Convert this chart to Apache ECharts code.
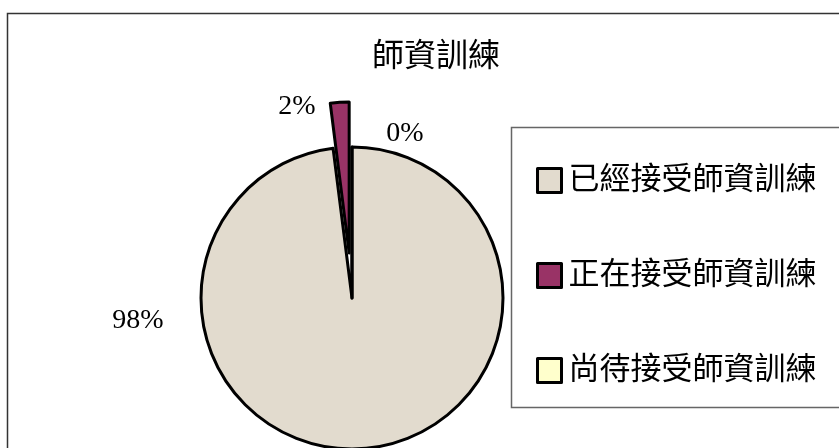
<!DOCTYPE html>
<html>
<head>
<meta charset="utf-8">
<script src="https://cdn.jsdelivr.net/npm/echarts@6/dist/echarts.min.js"></script>
<style>
html, body { margin: 0; padding: 0; background: #fff; }
#main { width: 839px; height: 448px; }
</style>
</head>
<body>
<div id="main"></div>
<script>
// 師資訓練 pie data
var names = ['已經接受師資訓練', '正在接受師資訓練', '尚待接受師資訓練'];
var values = [98, 2, 0];
var colors = ['#E2DBCE', '#993366', '#FFFFCC'];
var explodeIdx = 1;   // the 2% slice is pulled out
// label spots (Excel put them by hand)
var labelPos = [[138, 321], [297, 107], [405, 134]];

var cjk = '"Liberation Serif", "Noto Sans CJK TC", serif';
var cx = 352, cy = 298, R = 151, explode = 45;

// direction of the pulled-out slice
var total = 0, before = 0;
for (var i = 0; i < values.length; i++) total += values[i];
for (var i = 0; i < explodeIdx; i++) before += values[i];
var mid = (before + values[explodeIdx] / 2) / total * Math.PI * 2;
var ox = Math.sin(mid) * explode, oy = -Math.cos(mid) * explode;

function buildData(showFn) {
    var arr = [];
    for (var i = 0; i < names.length; i++) {
        var on = showFn(i);
        arr.push({
            name: names[i],
            value: values[i],
            itemStyle: on ? { color: colors[i], borderColor: '#000', borderWidth: 3 }
                          : { color: 'rgba(0,0,0,0)', borderWidth: 0 },
            label: { show: on }
        });
    }
    return arr;
}

var legendData = [];
for (var i = 0; i < names.length; i++) {
    legendData.push({ name: names[i], itemStyle: { color: colors[i], borderColor: '#000', borderWidth: 3 } });
}

var pieBase = {
    type: 'pie',
    radius: R,
    startAngle: 90,
    clockwise: true,
    avoidLabelOverlap: false,
    emphasis: { disabled: true },
    label: {
        formatter: '{d}%',
        fontFamily: cjk,
        fontSize: 28,
        color: '#000'
    },
    labelLine: { show: false },
    labelLayout: function (params) {
        var p = labelPos[params.dataIndex];
        return { x: p[0], y: p[1], align: 'center', verticalAlign: 'middle' };
    }
};

var myChart = echarts.init(document.getElementById('main'));
var option = {
    animation: false,
    backgroundColor: '#fff',
    title: {
        text: '師資訓練',
        left: 431,
        top: 37,
        textAlign: 'center',
        textStyle: { fontFamily: cjk, fontSize: 32, fontWeight: 'normal', color: '#000' }
    },
    legend: {
        orient: 'vertical',
        left: 531,
        top: 160,
        itemWidth: 24,
        itemHeight: 24,
        itemGap: 64,
        icon: 'rect',
        selectedMode: false,
        textStyle: { fontFamily: cjk, fontSize: 31, color: '#000', lineHeight: 31, padding: [0, 0, 0, 2] },
        data: legendData
    },
    graphic: [
        {
            type: 'rect',
            shape: { x: 7.5, y: 13.5, width: 840, height: 440 },
            style: { fill: null, stroke: '#333', lineWidth: 1.5 },
            z: -10
        },
        {
            type: 'rect',
            shape: { x: 511.5, y: 127.5, width: 340, height: 280 },
            style: { fill: null, stroke: '#666', lineWidth: 1.5 },
            z: -5
        }
    ],
    series: [
        echarts.util.extend({
            name: 'main',
            center: [cx, cy],
            data: buildData(function (i) { return i !== explodeIdx; })
        }, pieBase),
        echarts.util.extend({
            name: 'out',
            center: [cx + ox, cy + oy],
            data: buildData(function (i) { return i === explodeIdx; })
        }, pieBase)
    ]
};
myChart.setOption(option);
</script>
</body>
</html>
